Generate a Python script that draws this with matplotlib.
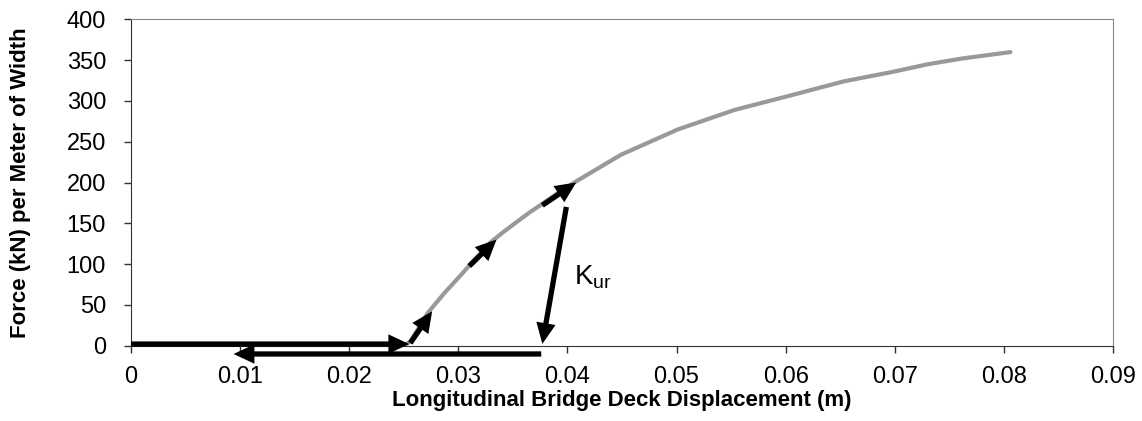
import matplotlib
matplotlib.use('Agg')
import matplotlib.pyplot as plt

plt.rcParams['font.family'] = ['Liberation Sans', 'DejaVu Sans']

# load-displacement curve (gray)
disp = [0.0250, 0.0256, 0.0272, 0.0287, 0.0302, 0.0316, 0.0329, 0.0342, 0.0355,
        0.0365, 0.0375, 0.0390, 0.0405, 0.0449, 0.0501, 0.0553, 0.0605, 0.0653,
        0.0699, 0.0730, 0.0761, 0.0806]
force = [0, 5, 40, 64, 86, 107, 126, 140, 153, 163, 172, 186, 199, 234, 265,
         289, 307, 324, 336, 345, 352, 360]

# black arrows: start and end points
arrow_x0 = [0.0, 0.0376, 0.0256, 0.0310, 0.0377, 0.0399]
arrow_y0 = [1.8, -10.4, 3, 97.5, 172, 170]
arrow_x1 = [0.0255, 0.0094, 0.0276, 0.0335, 0.0408, 0.0377]
arrow_y1 = [1.8, -10.4, 42, 130, 200, 2]

xticks = [0, 0.01, 0.02, 0.03, 0.04, 0.05, 0.06, 0.07, 0.08, 0.09]
xtick_labels = ['0', '0.01', '0.02', '0.03', '0.04', '0.05', '0.06', '0.07', '0.08', '0.09']
yticks = [0, 50, 100, 150, 200, 250, 300, 350, 400]

fig = plt.figure(figsize=(11.42, 4.21), dpi=100)
ax = fig.add_axes([0.1147, 0.1793, 0.8599, 0.7744])

ax.plot(disp, force, color='#999999', lw=3, solid_capstyle='round', zorder=2)

for x0, y0, x1, y1 in zip(arrow_x0, arrow_y0, arrow_x1, arrow_y1):
    ax.annotate('', xy=(x1, y1), xytext=(x0, y0), annotation_clip=False,
                arrowprops=dict(arrowstyle='simple,head_length=0.75,head_width=0.7,tail_width=0.19',
                                mutation_scale=20, lw=0, fc='black', ec='none',
                                shrinkA=0, shrinkB=0), zorder=3)

ax.text(0.0406, 84, r'K$_{\mathregular{ur}}$', fontsize=20, va='center', ha='left')

ax.set_xlim(0, 0.09)
ax.set_ylim(0, 400)
ax.set_xticks(xticks)
ax.set_xticklabels(xtick_labels)
ax.set_yticks(yticks)
ax.tick_params(axis='both', labelsize=17, direction='out', length=5, width=1,
               color='#333333')
ax.tick_params(axis='x', pad=10)
ax.tick_params(axis='y', pad=13)

for side in ['top', 'right']:
    ax.spines[side].set_color('#888888')
for side in ['left', 'bottom']:
    ax.spines[side].set_color('#333333')

ax.set_xlabel('Longitudinal Bridge Deck Displacement (m)', fontsize=16,
              fontweight='bold', labelpad=1)
ax.set_ylabel('Force (kN) per Meter of Width', fontsize=16, fontweight='bold',
              labelpad=26)

fig.savefig('out.png', dpi=100)
